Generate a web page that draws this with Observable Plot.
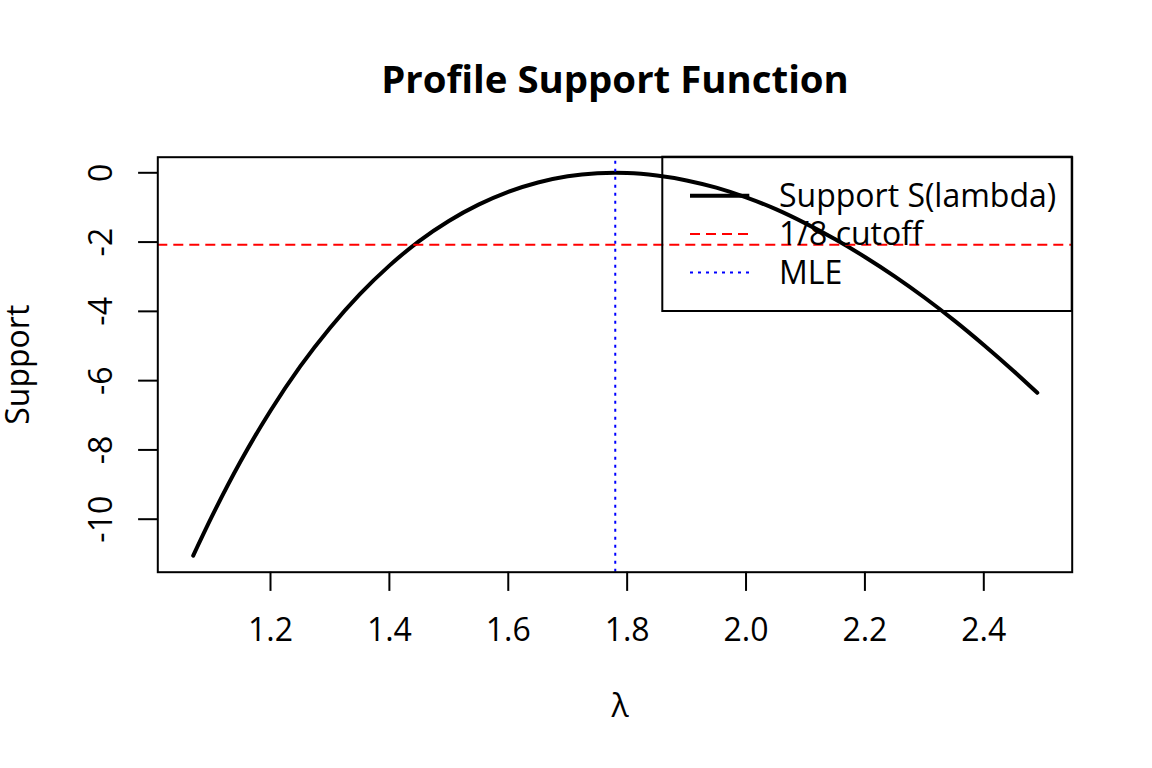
<!DOCTYPE html>
<html>
<head>
<meta charset="utf-8">
<script src="https://cdn.jsdelivr.net/npm/d3@7"></script>
<script src="https://cdn.jsdelivr.net/npm/@observablehq/plot@0.6"></script>
<style>
  html, body { margin: 0; padding: 0; background: white; }
  svg { display: block; }
</style>
</head>
<body>
<div id="chart"></div>
<script>
// ---- data ----
const lambda = [1.07, 1.10, 1.15, 1.20, 1.25, 1.30, 1.35, 1.40, 1.45, 1.50, 1.55, 1.60, 1.65, 1.70, 1.75, 1.78,
                1.80, 1.85, 1.90, 1.95, 2.00, 2.05, 2.10, 2.15, 2.20, 2.25, 2.30, 2.35, 2.40, 2.45, 2.49];
const support = [-11.05, -9.97, -8.32, -6.87, -5.59, -4.48, -3.51, -2.68, -1.97, -1.39, -0.92, -0.55, -0.28, -0.10, -0.014, 0,
                 -0.006, -0.08, -0.22, -0.43, -0.71, -1.05, -1.46, -1.92, -2.43, -2.99, -3.60, -4.26, -4.97, -5.72, -6.35];
const cutoff = -2.08;     // log(1/8)
const mle = 1.78;
const xTicks = [1.2, 1.4, 1.6, 1.8, 2.0, 2.2, 2.4];
const xTickLabels = ["1.2", "1.4", "1.6", "1.8", "2.0", "2.2", "2.4"];
const yTicks = [0, -2, -4, -6, -8, -10];
const yTickLabels = ["0", "-2", "-4", "-6", "-8", "-10"];
const titleText = "Profile Support Function";
const xLabel = "λ";
const yLabel = "Support";
const legendLabels = ["Support S(lambda)", "1/8 cutoff", "MLE"];

// ---- styles ----
const legendStyles = [
  {stroke: "black", width: 4, dash: null},
  {stroke: "red", width: 2, dash: "10,6"},
  {stroke: "blue", width: 2, dash: "3,5"}
];

const data = lambda.map((l, i) => ({lambda: l, s: support[i]}));
const FONT = "'Open Sans', 'Noto Sans', sans-serif";

const svg = Plot.plot({
  width: 1152,
  height: 768,
  marginLeft: 157.3,
  marginRight: 80.3,
  marginTop: 156.7,
  marginBottom: 196.3,
  style: {fontFamily: FONT, background: "white", color: "black"},
  x: {domain: [1.0104, 2.54872], axis: null},
  y: {domain: [-11.53, 0.4503], axis: null},
  marks: [
    Plot.axisX({ticks: xTicks, tickSize: 19.2, strokeWidth: 2, tickFormat: () => "", label: null}),
    Plot.axisY({ticks: yTicks, tickSize: 19.2, strokeWidth: 2, tickFormat: () => "", label: null}),
    Plot.text(xTicks, {x: d => d, text: (d, i) => xTickLabels[i], frameAnchor: "bottom", dy: 69,
      lineAnchor: "bottom", textAnchor: "middle", fontSize: 32, fill: "black"}),
    Plot.text(yTicks, {y: d => d, text: (d, i) => yTickLabels[i], frameAnchor: "left", dx: -46,
      rotate: -90, lineAnchor: "bottom", textAnchor: "middle", fontSize: 32, fill: "black"}),
    Plot.text([titleText], {frameAnchor: "top", dy: -64.4, lineAnchor: "bottom", textAnchor: "middle",
      fontSize: 38.4, fontWeight: "bold", fill: "black"}),
    Plot.text([xLabel], {frameAnchor: "bottom", dy: 145, dx: 5, lineAnchor: "bottom", textAnchor: "middle",
      fontSize: 32, fill: "black"}),
    Plot.text([yLabel], {frameAnchor: "left", dx: -128.8, rotate: -90, lineAnchor: "bottom", textAnchor: "middle",
      fontSize: 32, fill: "black"}),
    Plot.line(data, {x: "lambda", y: "s", stroke: "black", strokeWidth: 4, curve: "monotone-x"}),
    Plot.ruleY([cutoff], {stroke: "red", strokeWidth: 2, strokeDasharray: "10,6"}),
    Plot.ruleX([mle], {stroke: "blue", strokeWidth: 2, strokeDasharray: "3,5", strokeDashoffset: 4}),
    Plot.frame({stroke: "black", strokeWidth: 2})
  ]
});

// ---- legend (layout in pixels, top-right of the plot region) ----
const L = {x: 662.3, y: 156.7, w: 409.4, h: 154.3, lineX1: 690, lineX2: 749.3, textX: 779, row0: 195.7, rowStep: 38.4};
const g = d3.select(svg).append("g")
  .attr("font-family", FONT).attr("font-size", 32).attr("text-anchor", "start");
g.append("rect").attr("x", L.x).attr("y", L.y).attr("width", L.w).attr("height", L.h)
  .attr("fill", "none").attr("stroke", "black").attr("stroke-width", 2);
legendLabels.forEach((lab, i) => {
  const y = L.row0 + i * L.rowStep;
  const st = legendStyles[i];
  const ln = g.append("line").attr("x1", L.lineX1).attr("x2", L.lineX2).attr("y1", y).attr("y2", y)
    .attr("stroke", st.stroke).attr("stroke-width", st.width);
  if (st.dash) ln.attr("stroke-dasharray", st.dash);
  g.append("text").attr("x", L.textX).attr("y", y + 11.3).attr("fill", "black")
    .attr("text-anchor", "start").style("font-size", "32px").text(lab);
});

document.getElementById("chart").appendChild(svg);
</script>
</body>
</html>
